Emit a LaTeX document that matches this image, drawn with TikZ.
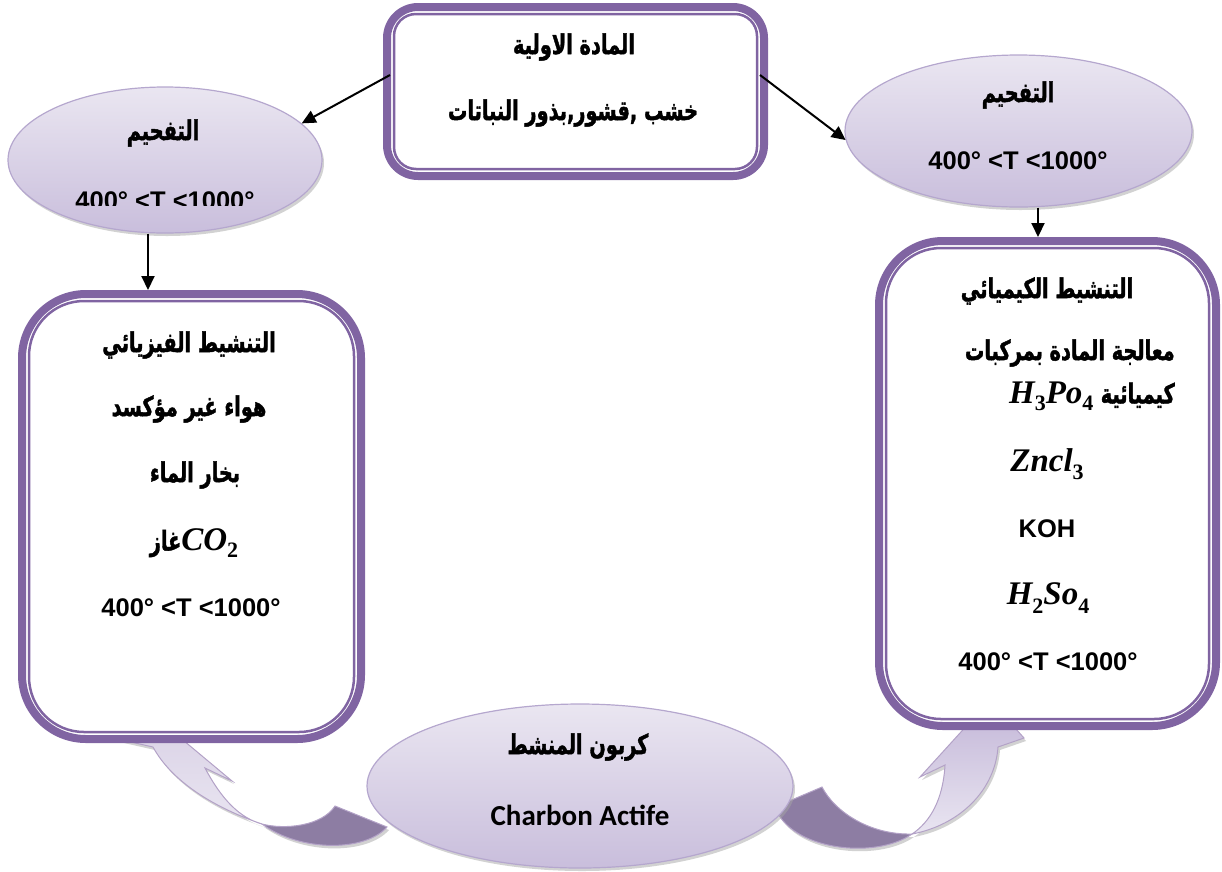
\documentclass[tikz,border=0pt]{standalone}
\usepackage{fontspec}
\usepackage{graphicx}
\usetikzlibrary{shapes.geometric,arrows.meta,shadows}
\TeXXeTstate=1
\setmainfont{Liberation Sans}
\newfontfamily\arabicfont[Script=Arabic, BoldFeatures={FakeBold=1.8}]{DejaVu Sans}
\newfontfamily\calfont{Carlito}
\newfontfamily\chemfont{Liberation Serif}
\newcommand{\cit}[1]{{\chemfont\bfseries\itshape\fontsize{33}{36}\selectfont #1}}
\newcommand{\csub}[1]{\raisebox{-0.32em}{\chemfont\bfseries\fontsize{22}{23}\selectfont #1}}
\newcommand{\artext}[1]{\scalebox{0.92}[1.3]{\beginR #1\endR}}
\definecolor{frameC}{HTML}{8064A2}
\definecolor{ellEdge}{HTML}{B5A7CE}
\definecolor{ellTop}{HTML}{EAE6F1}
\definecolor{ellMid}{HTML}{E1DBEA}
\definecolor{ellBot}{HTML}{C9BEDC}
\definecolor{arrEdge}{HTML}{B3A2C7}
\definecolor{arrDarkC}{HTML}{8D7DA3}
\definecolor{arrHeadR}{HTML}{C2B5D7}
\definecolor{arrLow}{HTML}{E9E5F1}
\definecolor{arrHeadL}{HTML}{DAD2E6}
\definecolor{shadowC}{HTML}{A6A6A6}
\begin{document}
\begin{tikzpicture}[x=1pt,y=-1pt,
  frame/.style={rectangle, draw=frameC, line width=8pt, fill=white, rounded corners=#1, inner sep=0pt},
  innerline/.style={draw=frameC, line width=2.5pt, rounded corners=#1},
  ell/.style={ellipse, draw=ellEdge, line width=1.2pt, top color=ellTop, middle color=ellMid, bottom color=ellBot, inner sep=0pt,
    drop shadow={shadow xshift=2pt, shadow yshift=-3pt, fill=shadowC}},
  conn/.style={line width=2pt, -{Triangle[length=14pt,width=13pt]}},
  ar/.style={font=\arabicfont\bfseries\fontsize{21}{26}\selectfont, inner sep=0pt},
  lt/.style={font=\bfseries\fontsize{25.5}{30}\selectfont, inner sep=0pt},
  cal/.style={font=\calfont\bfseries\fontsize{29}{32}\selectfont, inner sep=0pt},
  arrDark/.style={draw=arrEdge, line width=1pt, fill=arrDarkC, drop shadow={shadow xshift=2pt, shadow yshift=-3pt, fill=shadowC}},
  arrLight/.style={draw=arrEdge, line width=1pt, top color=#1, bottom color=arrLow, drop shadow={shadow xshift=2pt, shadow yshift=-3pt, fill=shadowC}}
]
\useasboundingbox (0,0) rectangle (1222,871);

% curved twisted arrows (drawn first, partly hidden by boxes)
\path[arrDark] (262,824) .. controls (285,830) and (322,826) .. (335,806) -- (387,827) .. controls (365,852) and (300,852) .. cycle;
\path[arrLight=arrHeadL] (262,824) .. controls (215,808) and (172,782) .. (153,747) -- (122,740) -- (100,722) -- (165,725) -- (232,781) -- (205,768) .. controls (222,800) and (240,818) .. cycle;
\path[arrDark] (775,807) -- (822,787) .. controls (835,812) and (870,835) .. (912,834) .. controls (875,860) and (790,850) .. cycle;
\path[arrLight=arrHeadR] (912,834) .. controls (960,825) and (995,790) .. (998,747) -- (1024,738) -- (990,700) -- (920,777) -- (945,765) .. controls (943,800) and (930,822) .. cycle;

% boxes
\node[frame=31pt, minimum width=377pt, minimum height=169pt] (top) at (575.5,91.5) {};
\draw[innerline=22pt] ([shift={(11,11)}]top.north west) rectangle ([shift={(-11,-11)}]top.south east);
\node[frame=64pt, minimum width=339pt, minimum height=445pt] (lbox) at (191.5,516.5) {};
\draw[innerline=55pt] ([shift={(11,11)}]lbox.north west) rectangle ([shift={(-11,-11)}]lbox.south east);
\node[frame=64pt, minimum width=337pt, minimum height=485pt] (rbox) at (1047.5,483.5) {};
\draw[innerline=55pt] ([shift={(11,11)}]rbox.north west) rectangle ([shift={(-11,-11)}]rbox.south east);

% ellipses
\node[ell, minimum width=314pt, minimum height=146pt] (lell) at (165,160) {};
\node[ell, minimum width=347pt, minimum height=152pt] (rell) at (1018.5,131) {};
\node[ell, minimum width=426pt, minimum height=164pt] (bell) at (580,786) {};

% connectors
\draw[conn] ([shift={(7,-16.5)}]top.west) -- (lell.15);
\draw[conn] ([shift={(-8,-16.5)}]top.east) -- (rell.183);
\draw[conn] (lell.south -| 148,0) -- (lbox.north -| 148,0);
\draw[conn] (rell.south -| 1038,0) -- (rbox.north -| 1038,0);

% texts: top box
\node[ar] (t1) at (574,47) {\artext{المادة الاولية}};
\node[ar] (t2) at (573,113) {\artext{خشب ,قشور,بذور النباتات}};

% left ellipse
\node[ar] (le1) at (163,133) {\artext{التفحيم}};
\begin{scope}
  \clip (0,150) rectangle (330,205);
  \node[lt] (le2) at (165,201) {400° <T <1000°};
\end{scope}

% right ellipse
\node[ar] (re1) at (1018,95) {\artext{التفحيم}};
\node[lt] (re2) at (1018,161) {400° <T <1000°};

% left box
\node[ar] (lb1) at (189,345) {\artext{التنشيط الفيزيائي}};
\node[ar] (lb2) at (189,409) {\artext{هواء غير مؤكسد}};
\node[ar] (lb3) at (195,475) {\artext{بخار الماء}};
\node[ar] (lb4) at (194,543) {\artext{غاز}\cit{CO}\csub{2}};
\node[lt] (lb5) at (191,608) {400° <T <1000°};

% right box
\node[ar] (rb1) at (1047,291) {\artext{التنشيط الكيميائي}};
\node[ar, anchor=east] (rb2) at (1175,353) {\artext{معالجة المادة بمركبات}};
\node[ar, anchor=east] (rb3) at (1175,396) {\cit{H}\csub{3}\cit{Po}\csub{4} \artext{كيميائية}};
\node[lt] (rb4) at (1047,464) {\cit{Zncl}\csub{3}};
\node[lt] (rb5) at (1047,529) {KOH};
\node[lt] (rb6) at (1048,598) {\cit{H}\csub{2}\cit{So}\csub{4}};
\node[lt] (rb7) at (1048,662) {400° <T <1000°};

% bottom ellipse
\node[ar] (be1) at (578,747) {\artext{كربون المنشط}};
\node[cal] (be2) at (580,815) {Charbon Actife};
\end{tikzpicture}
\end{document}
